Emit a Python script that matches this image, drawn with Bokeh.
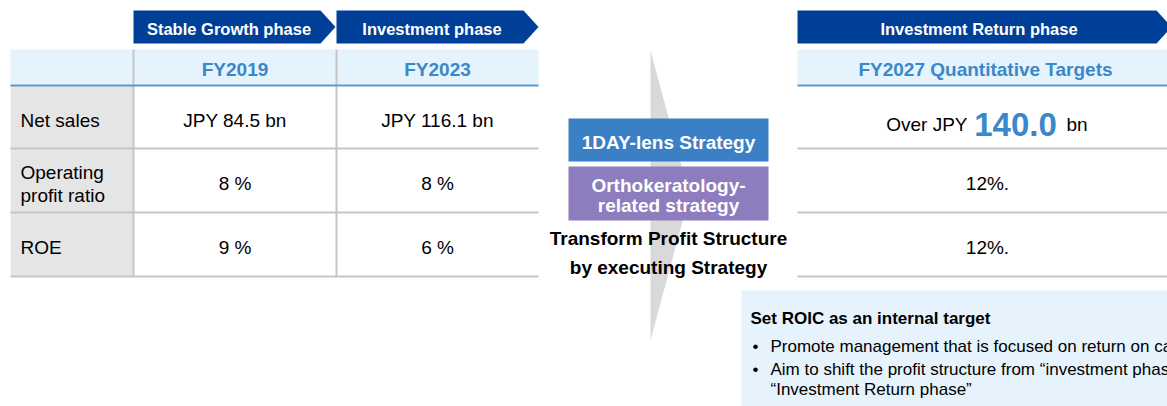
from bokeh.plotting import figure
from bokeh.models import Range1d
from bokeh.core.properties import value
from bokeh.embed import file_html
from bokeh.resources import INLINE

# ---------------- data ----------------
phases = ["Stable Growth phase", "Investment phase", "Investment Return phase"]
years = ["FY2019", "FY2023", "FY2027 Quantitative Targets"]
metrics = [["Net sales"], ["Operating", "profit ratio"], ["ROE"]]
fy2019 = ["JPY 84.5 bn", "8 %", "9 %"]
fy2023 = ["JPY 116.1 bn", "8 %", "6 %"]
fy2027_sales = ["Over JPY", "140.0", "bn"]
fy2027 = ["", "12%.", "12%."]
strategies = [["1DAY-lens Strategy"], ["Orthokeratology-", "related strategy"]]
message = ["Transform Profit Structure", "by executing Strategy"]
roic_title = "Set ROIC as an internal target"
roic_points = [["Promote management that is focused on return on capital"],
               ["Aim to shift the profit structure from \u201cinvestment phase\u201d to",
                "\u201cInvestment Return phase\u201d"]]

# ---------------- styles ----------------
FONT = value("Liberation Sans")
NAVY = "#003F98"
HEAD_BG = "#E5F3FC"
HEAD_TXT = "#3A87C9"
HEAD_LINE = "#5B9BD5"
GRID = "#C6C6C6"
LABEL_BG = "#E5E5E5"
BOX_BLUE = "#3B80C4"
BOX_PURPLE = "#8E7DBE"
ARROW = "#D9D9D9"
NOTE_BG = "#E6F3FC"

W, H = 1167, 406
p = figure(width=W, height=H, output_backend="svg", toolbar_location=None,
           x_range=Range1d(0, W), y_range=Range1d(H, 0),
           x_axis_type=None, y_axis_type=None, min_border=0,
           outline_line_color=None, background_fill_color="white",
           border_fill_color="white")

# layout
LX = [10, 133, 336, 538]          # left table column edges
RX = [797, 1180]                  # right table edges
HY = [49, 85]                     # header row
RY = [85, 148, 212, 276]          # data row edges
CHEV_Y = [10, 43]
row_mid = [(RY[i] + RY[i + 1]) / 2 + 3 for i in range(3)]
col_mid = [(LX[1] + LX[2]) / 2, (LX[2] + LX[3]) / 2, 985]
head_mid = (HY[0] + HY[1]) / 2 + 2


def txt(x, y, t, size, color="#000000", bold=False, align="center", baseline="middle"):
    p.text(x=[x], y=[y], text=[t], text_font=FONT, text_font_size=value(size),
           text_font_style="bold" if bold else "normal", text_color=color,
           text_align=align, text_baseline=baseline)


# ---- middle arrow (behind) ----
p.patch([650, 689, 650], [50, 195, 340], fill_color=ARROW, line_color=None)

# ---- chevrons ----
chev = [(LX[1], LX[2] - 1), (LX[2], LX[3]), (RX[0], 1171)]
for (a, b), name in zip(chev, phases):
    ym = (CHEV_Y[0] + CHEV_Y[1]) / 2
    p.patch([a, b - 15, b, b - 15, a], [CHEV_Y[0], CHEV_Y[0], ym, CHEV_Y[1], CHEV_Y[1]],
            fill_color=NAVY, line_color=None)
    txt((a + b - 15) / 2 + 2, ym + 2, name, "16.5px", "white", bold=True)

# ---- header rows ----
p.quad(left=[LX[0], RX[0]], right=[LX[3], RX[1]], top=[HY[0]] * 2, bottom=[HY[1]] * 2,
       fill_color=HEAD_BG, line_color=None)
# label column background
p.quad(left=[LX[0]], right=[LX[1]], top=[RY[0]], bottom=[RY[3]],
       fill_color=LABEL_BG, line_color=None)

# row lines
for yy in RY[1:]:
    p.segment(x0=[LX[0], RX[0]], x1=[LX[3], RX[1]], y0=[yy] * 2, y1=[yy] * 2,
              line_color=GRID, line_width=2)
# vertical separators
p.segment(x0=[LX[1], LX[2]], x1=[LX[1], LX[2]], y0=[HY[0]] * 2, y1=[RY[3]] * 2,
          line_color=GRID, line_width=2)
# header underline
p.segment(x0=[LX[0], RX[0]], x1=[LX[3], RX[1]], y0=[HY[1]] * 2, y1=[HY[1]] * 2,
          line_color=HEAD_LINE, line_width=2)

# header texts
for xm, yr in zip(col_mid, years):
    txt(xm, head_mid, yr, "19px", HEAD_TXT, bold=True)

# metric labels
for ym, lab in zip(row_mid, metrics):
    n = len(lab)
    for k, line in enumerate(lab):
        txt(20, ym + (k - (n - 1) / 2) * 23, line, "19px", align="left")

# values
for ym, v1, v2 in zip(row_mid, fy2019, fy2023):
    txt(col_mid[0], ym, v1, "19px")
    txt(col_mid[1], ym, v2, "19px")
for ym, v3 in zip(row_mid[1:], fy2027[1:]):
    txt(col_mid[2] + 2, ym, v3, "19px")

# FY2027 net sales target
base = row_mid[0] + 4
txt(967, base, fy2027_sales[0], "19px", align="right", baseline="alphabetic")
txt(1015, base, fy2027_sales[1], "33px", HEAD_TXT, bold=True, baseline="alphabetic")
txt(1066, base, fy2027_sales[2], "19px", align="left", baseline="alphabetic")

# ---- strategy boxes ----
boxes = [(118, 161, BOX_BLUE), (166, 220, BOX_PURPLE)]
for (t, b, c), lines in zip(boxes, strategies):
    p.quad(left=[568], right=[768], top=[t], bottom=[b], fill_color=c, line_color=None)
    n = len(lines)
    for k, line in enumerate(lines):
        txt(668, (t + b) / 2 + 2 + (k - (n - 1) / 2) * 20, line, "19px", "white", bold=True)

for k, line in enumerate(message):
    txt(668, 238 + k * 29, line, "19px", bold=True)

# ---- ROIC note ----
p.quad(left=[741], right=[1180], top=[290], bottom=[410], fill_color=NOTE_BG, line_color=None)
txt(750, 318, roic_title, "17px", bold=True, align="left")
yy = 346
for lines in roic_points:
    txt(752, yy, "\u2022", "17px", align="left")
    for k, line in enumerate(lines):
        txt(770, yy + k * 20, line, "17px", align="left")
    yy += 23

open("out.html", "w").write(file_html(p, INLINE))
